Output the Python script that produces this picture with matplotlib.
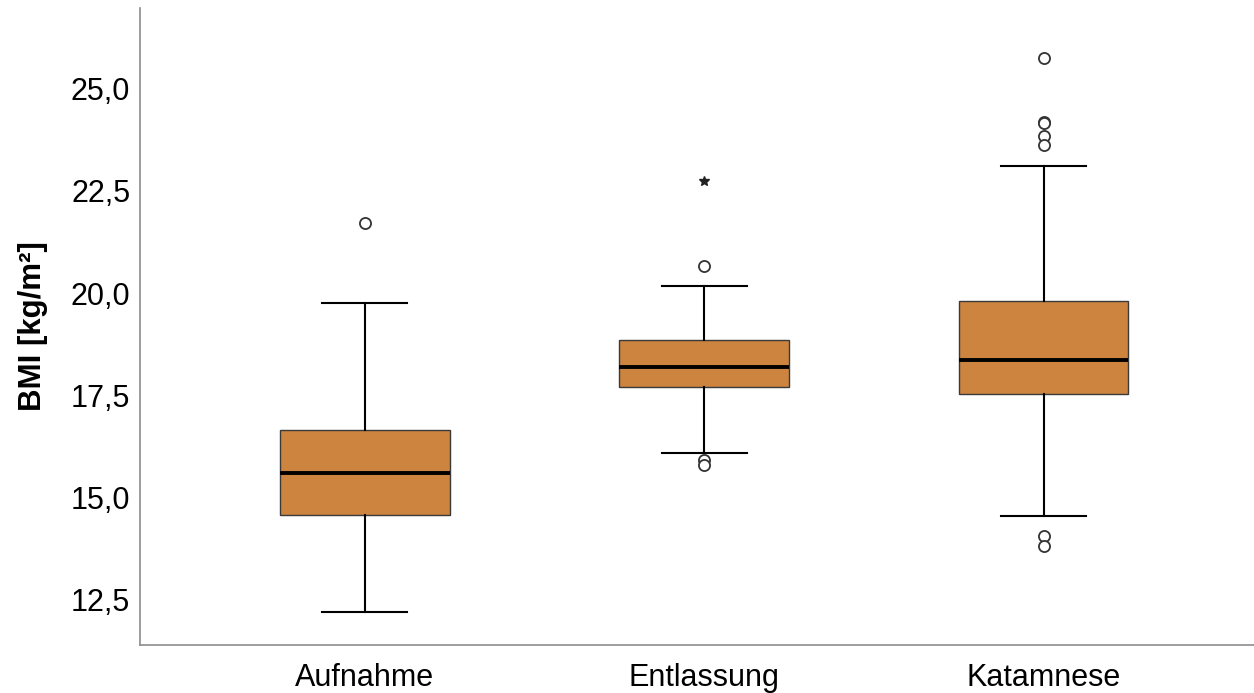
import matplotlib
matplotlib.use("Agg")
import matplotlib.pyplot as plt

plt.rcParams["font.family"] = ["Liberation Sans", "DejaVu Sans"]

# ── data ────────────────────────────────────────────────────────────────────
categories = ["Aufnahme", "Entlassung", "Katamnese"]
whisker_low = [12.21, 16.09, 14.56]
q1 = [14.58, 17.70, 17.53]
median = [15.61, 18.19, 18.37]
q3 = [16.66, 18.86, 19.80]
whisker_high = [19.76, 20.18, 23.12]
outliers = [
    [21.72],
    [20.67, 15.92, 15.80],
    [25.75, 24.19, 24.16, 23.84, 23.62, 14.06, 13.82],
]
extremes = [[], [22.73], []]

yticks = [12.5, 15.0, 17.5, 20.0, 22.5, 25.0]
ytick_labels = ["12,5", "15,0", "17,5", "20,0", "22,5", "25,0"]

BOX_COLOR = "#CC843F"

stats = []
for i, name in enumerate(categories):
    stats.append(dict(label=name, whislo=whisker_low[i], q1=q1[i], med=median[i],
                      q3=q3[i], whishi=whisker_high[i], fliers=outliers[i]))

fig = plt.figure(figsize=(12.54, 6.93), dpi=100)
ax = fig.add_axes([140 / 1254, 48 / 693, 1 - 140 / 1254, 637 / 693])

positions = list(range(len(categories)))
ax.bxp(stats, positions=positions, widths=0.5, patch_artist=True,
       boxprops=dict(facecolor=BOX_COLOR, edgecolor="#3a3a3a", linewidth=1.0),
       medianprops=dict(color="black", linewidth=2.8),
       whiskerprops=dict(color="black", linewidth=1.5),
       capprops=dict(color="black", linewidth=1.5),
       capwidths=0.25,
       flierprops=dict(marker="o", markersize=8, markerfacecolor="white",
                       markeredgecolor="#333333", markeredgewidth=1.3))

# extreme values (SPSS star markers)
for i, vals in enumerate(extremes):
    if vals:
        ax.plot([positions[i]] * len(vals), vals, linestyle="none", marker="*",
                markersize=7, color="#222222")

ax.set_xlim(-0.662, 2.62)
ax.set_ylim(11.40, 26.97)
ax.set_yticks(yticks)
ax.set_yticklabels(ytick_labels)
ax.set_xticks(positions)
ax.set_xticklabels(categories)
ax.tick_params(axis="both", length=0, labelsize=22, colors="black")
ax.tick_params(axis="y", pad=7)
ax.tick_params(axis="x", pad=13)

for s in ["top", "right"]:
    ax.spines[s].set_visible(False)
for s in ["left", "bottom"]:
    ax.spines[s].set_color("#8c8c8c")
    ax.spines[s].set_linewidth(1.2)

ax.set_ylabel("BMI [kg/m²]", fontsize=22.5, fontweight="bold", labelpad=16)

fig.savefig("out.png", dpi=100)
